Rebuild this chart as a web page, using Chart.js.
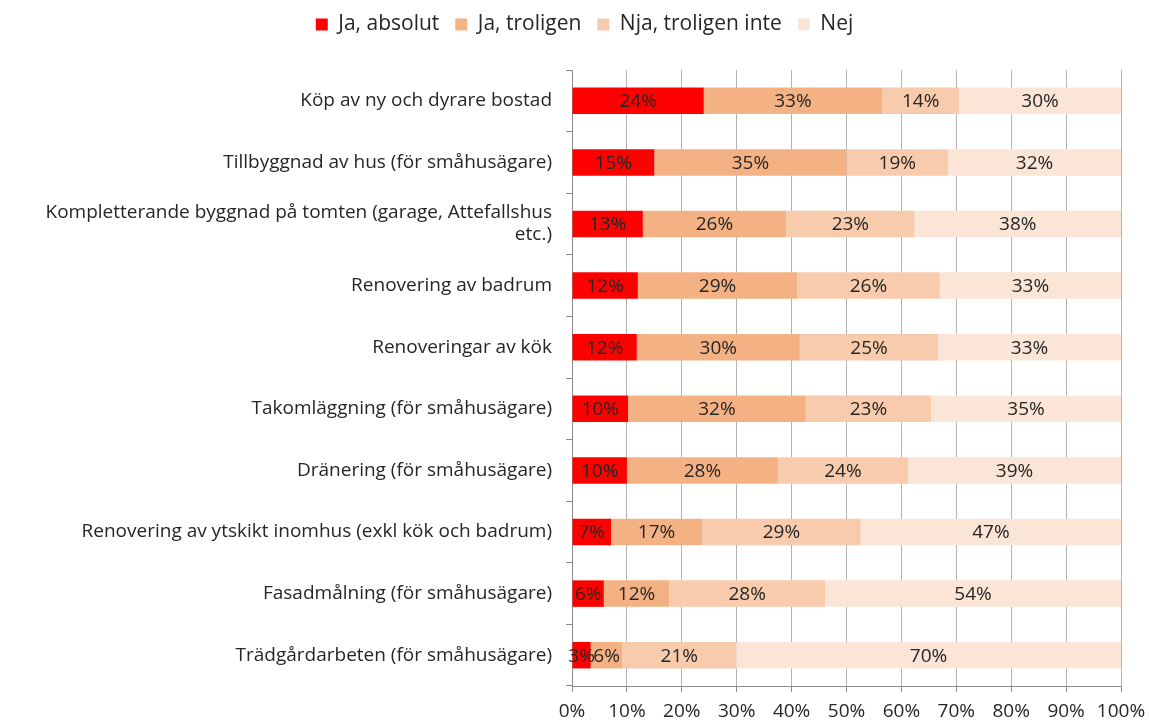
<!DOCTYPE html>
<html>
<head>
<meta charset="utf-8">
<script src="https://cdn.jsdelivr.net/npm/chart.js@4"></script>
<style>
  html, body { margin: 0; padding: 0; background: #fff; }
  #wrap { width: 1149px; height: 724px; }
</style>
</head>
<body>
<div id="wrap"><canvas id="surveyChart"></canvas></div>
<script>
const categories = [
  "Köp av ny och dyrare bostad",
  "Tillbyggnad av hus (för småhusägare)",
  ["Kompletterande byggnad på tomten (garage, Attefallshus", "etc.)"],
  "Renovering av badrum",
  "Renoveringar av kök",
  "Takomläggning (för småhusägare)",
  "Dränering (för småhusägare)",
  "Renovering av ytskikt inomhus (exkl kök och badrum)",
  "Fasadmålning (för småhusägare)",
  "Trädgårdarbeten (för småhusägare)"
];
const jaAbsolut   = [24.0, 15.0, 12.9, 12.0, 11.8, 10.2, 10.0, 7.1, 5.8, 3.4];
const jaTroligen  = [32.5, 35.0, 26.1, 29.0, 29.7, 32.4, 27.5, 16.6, 11.9, 5.8];
const njaTroligen = [14.0, 18.5, 23.4, 26.0, 25.2, 22.8, 23.7, 28.9, 28.4, 20.7];
const nej         = [29.5, 31.5, 37.6, 33.0, 33.3, 34.6, 38.8, 47.4, 53.9, 70.1];
const xTicks = [0, 10, 20, 30, 40, 50, 60, 70, 80, 90, 100];

const FONT = "'Open Sans', Lato, sans-serif";
const TEXT = "#262626";

const seriesDefs = [
  { label: "Ja, absolut", data: jaAbsolut, color: "#FF0000" },
  { label: "Ja, troligen", data: jaTroligen, color: "#F4B183" },
  { label: "Nja, troligen inte", data: njaTroligen, color: "#F8CBAD" },
  { label: "Nej", data: nej, color: "#FBE5D6" }
];

// draws the percent value in the middle of each bar segment
const segmentLabels = {
  id: "segmentLabels",
  afterDatasetsDraw(chart) {
    const ctx = chart.ctx;
    ctx.save();
    ctx.font = "19px " + FONT;
    ctx.fillStyle = TEXT;
    ctx.textAlign = "center";
    ctx.textBaseline = "middle";
    chart.data.datasets.forEach((ds, i) => {
      const meta = chart.getDatasetMeta(i);
      meta.data.forEach((bar, j) => {
        const cx = (bar.x + bar.base) / 2;
        ctx.fillText(Math.round(ds.data[j]) + "%", cx, bar.y + 1);
      });
    });
    ctx.restore();
  }
};

// fixed legend band height, legend nudged to where the original sits
const legendSpace = {
  id: "legendSpace",
  beforeInit(chart) {
    const legend = chart.legend;
    const fit = legend.fit;
    legend.fit = function () {
      fit.bind(legend)();
      this.height = 70;
    };
    const draw = legend.draw;
    legend.draw = function () {
      chart.ctx.save();
      chart.ctx.translate(24, -2);
      draw.call(legend);
      chart.ctx.restore();
    };
  }
};

new Chart(document.getElementById("surveyChart").getContext("2d"), {
  type: "bar",
  data: {
    labels: categories,
    datasets: seriesDefs.map(s => ({
      label: s.label,
      data: s.data,
      backgroundColor: s.color,
      borderWidth: 0,
      categoryPercentage: 1,
      barPercentage: 0.43
    }))
  },
  options: {
    indexAxis: "y",
    responsive: true,
    maintainAspectRatio: false,
    animation: false,
    layout: { padding: { left: 0, right: 28, top: 0, bottom: 0 } },
    scales: {
      x: {
        stacked: true,
        min: 0,
        max: 100,
        afterBuildTicks(scale) { scale.ticks = xTicks.map(v => ({ value: v })); },
        afterFit(scale) {
          scale.height = 38;
          scale.paddingRight = 0;
          scale.paddingLeft = 0;
        },
        ticks: {
          callback: v => v + "%",
          font: { family: FONT, size: 19 },
          color: TEXT,
          padding: 8
        },
        grid: { color: "#B3B3B3", tickLength: 6, tickColor: "#8C8C8C" },
        border: { display: true, color: "#8C8C8C" }
      },
      y: {
        stacked: true,
        afterFit(scale) { scale.width = 572; },
        ticks: {
          font: { family: FONT, size: 19, lineHeight: 1.15 },
          color: TEXT,
          padding: 14,
          autoSkip: false
        },
        grid: { offset: true, drawOnChartArea: false, tickLength: 6, tickColor: "#8C8C8C" },
        border: { display: true, color: "#8C8C8C" }
      }
    },
    plugins: {
      legend: {
        position: "top",
        labels: {
          font: { family: FONT, size: 21 },
          color: TEXT,
          boxWidth: 12,
          boxHeight: 12,
          padding: 16
        }
      },
      tooltip: { enabled: false }
    }
  },
  plugins: [segmentLabels, legendSpace]
});
</script>
</body>
</html>
